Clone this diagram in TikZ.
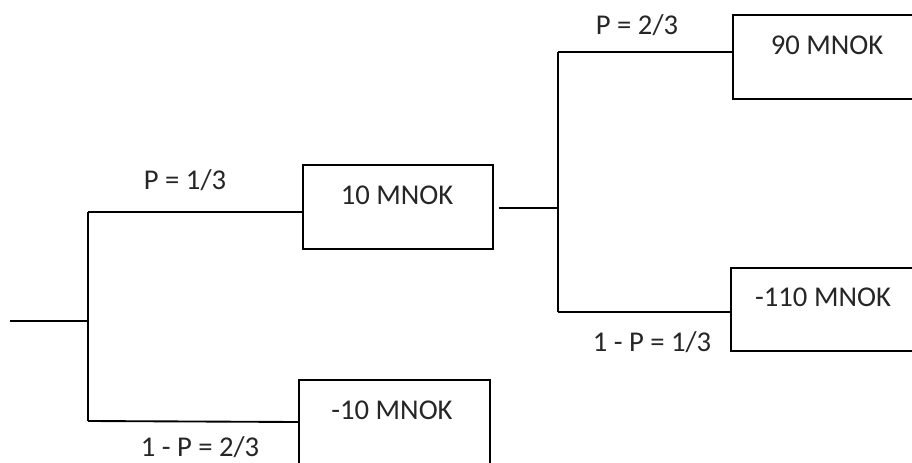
\documentclass[tikz,border=0pt]{standalone}
\usepackage{fontspec}
\setmainfont{Carlito}
\begin{document}
\begin{tikzpicture}[x=0.75pt,y=-0.75pt,
  line width=1.4pt,
  outcome/.style={draw, line width=1.4pt, inner sep=0pt, anchor=north west},
  txt/.style={inner sep=0pt, font=\fontsize{21.5}{25}\selectfont, text=black!85},
  prob/.style={inner sep=0pt, font=\fontsize{21.5}{25}\selectfont, text=black!85}]
  \clip (0,0) rectangle (912,463);
  \fill[white] (0,0) rectangle (912,463);

  % outcome boxes (top-left corner, size)
  \node[outcome, minimum width=190*0.75pt, minimum height=84*0.75pt] (b10)   at (302,164) {};
  \node[outcome, minimum width=191*0.75pt, minimum height=88*0.75pt] (bm10)  at (298,379) {};
  \node[outcome, minimum width=184*0.75pt, minimum height=84*0.75pt] (b90)   at (732,14)  {};
  \node[outcome, minimum width=186*0.75pt, minimum height=83*0.75pt] (bm110) at (730,267) {};

  % box texts
  \node[txt] (t10)   at (397,195) {10 MNOK};
  \node[txt] (tm10)  at (392,410) {-10 MNOK};
  \node[txt] (t90)   at (827,45)  {90 MNOK};
  \node[txt] (tm110) at (823,297) {-110 MNOK};

  % first chance node
  \coordinate (start) at (10,321);
  \coordinate (j1)    at (88,321);
  \coordinate (j1top) at (88,212);
  \coordinate (j1bot) at (88,421);
  \draw (start) -- (j1);
  \draw (j1top) -- (j1bot);
  \draw (j1top) -- (j1top -| b10.west);
  \draw (j1bot) -- ([yshift=-0.75pt]j1bot -| bm10.west);

  % second chance node
  \coordinate (j2)    at (558,208);
  \coordinate (j2top) at (558,52);
  \coordinate (j2bot) at (558,312);
  \draw ([xshift=5*0.75pt]b10.east |- j2) -- (j2);
  \draw (j2top) -- (j2bot);
  \draw (j2top) -- (j2top -| b90.west);
  \draw (j2bot) -- (j2bot -| bm110.west);

  % probabilities
  \node[prob] (p1)  at (185,180) {P = 1/3};
  \node[prob] (p2)  at (200,447) {1 - P = 2/3};
  \node[prob] (p3)  at (637,25)  {P = 2/3};
  \node[prob] (p4)  at (652,342) {1 - P = 1/3};
\end{tikzpicture}
\end{document}
